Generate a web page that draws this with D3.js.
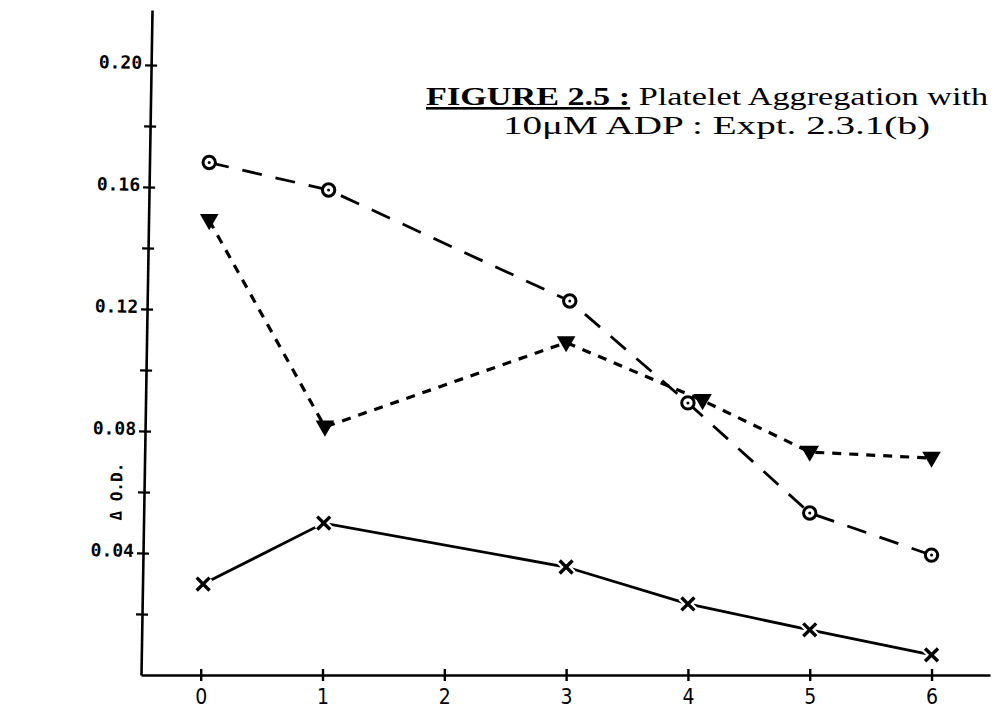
<!DOCTYPE html>
<html>
<head>
<meta charset="utf-8">
<script src="https://cdn.jsdelivr.net/npm/d3@7"></script>
<style>
  html, body { margin: 0; padding: 0; background: #fff; }
  svg { display: block; }
</style>
</head>
<body>
<svg id="chart" width="995" height="708"></svg>
<script>
// Platelet aggregation (ΔO.D.) over time, three conditions
const circleX = [0.07, 1.05, 3.03, 4.0, 5.0, 6.0];
const circleY = [0.168, 0.159, 0.1226, 0.0892, 0.0531, 0.0393];

const triangleX = [0.07, 1.02, 3.0, 4.12, 5.0, 6.0];
const triangleY = [0.149, 0.0813, 0.109, 0.090, 0.0731, 0.0711];

const crossX = [0.02, 1.01, 3.0, 4.0, 5.0, 6.0];
const crossY = [0.0298, 0.0498, 0.0354, 0.0233, 0.0148, 0.0066];

const xTicks = [0, 1, 2, 3, 4, 5, 6];
const yTicks = [0.02, 0.04, 0.06, 0.08, 0.10, 0.12, 0.14, 0.16, 0.18, 0.20];
const yLabelled = [0.04, 0.08, 0.12, 0.16, 0.20];

const titleBold = "FIGURE 2.5 :";
const titleRest = " Platelet Aggregation with";
const titleLine2 = "10\u03BCM ADP : Expt. 2.3.1(b)";
const yTitle = "\u0394 O.D.";

const svg = d3.select("#chart");

const x = d3.scaleLinear().domain([-0.49, 6.48]).range([141, 990]);
const y = d3.scaleLinear().domain([0, 0.218]).range([675, 10]);

// y axis: hand-ruled, leaning slightly to the right at the top
const yAxis = d3.axisLeft(y)
  .tickValues(yTicks)
  .tickSizeInner(6).tickSizeOuter(0)
  .tickPadding(3)
  .tickFormat(d => yLabelled.some(v => Math.abs(v - d) < 1e-9) ? d3.format(".2f")(d) : "");

const x0 = x(-0.49), y0 = y(0);
const gy = svg.append("g")
  .attr("transform", `rotate(0.95,${x0},${y0}) translate(${x0},0)`)
  .call(yAxis);
gy.select(".domain").attr("stroke", "#000").attr("stroke-width", 2.6);
gy.selectAll(".tick line").attr("x1", -6).attr("x2", 6).attr("stroke", "#000").attr("stroke-width", 2.4);
gy.selectAll(".tick text")
  .attr("font-family", "'DejaVu Sans Mono', monospace")
  .attr("font-weight", "bold")
  .attr("font-size", 18)
  .attr("fill", "#000")
  .attr("dy", "0.2em");

// the y title sits between the 0.08 and 0.04 labels
gy.append("text")
  .attr("transform", `translate(-22,${y(0.06)}) rotate(-90)`)
  .attr("text-anchor", "middle")
  .attr("font-family", "'DejaVu Sans Mono', monospace")
  .attr("font-weight", "bold")
  .attr("font-size", 16)
  .attr("fill", "#000")
  .text(yTitle);

const xAxis = d3.axisBottom(x)
  .tickValues(xTicks)
  .tickSizeInner(6).tickSizeOuter(0)
  .tickPadding(8)
  .tickFormat(d3.format("d"));

const gx = svg.append("g").attr("transform", `translate(0,${y0})`).call(xAxis);
gx.select(".domain").attr("stroke", "#000").attr("stroke-width", 2.6);
gx.selectAll(".tick line").attr("y1", -6).attr("y2", 6).attr("stroke", "#000").attr("stroke-width", 2.4);
gx.selectAll(".tick text")
  .attr("font-family", "'Liberation Sans Narrow', 'DejaVu Sans Condensed', sans-serif")
  .attr("font-size", 21)
  .attr("fill", "#000");

// figure title
const t1 = svg.append("text")
  .attr("x", 426).attr("y", 105)
  .attr("font-family", "'Liberation Serif', 'Times New Roman', serif")
  .attr("font-size", 26)
  .attr("textLength", 562)
  .attr("lengthAdjust", "spacingAndGlyphs");
t1.append("tspan").attr("font-weight", "bold").attr("text-decoration", "underline").text(titleBold);
t1.append("tspan").text(titleRest);

svg.append("text")
  .attr("x", 503).attr("y", 134)
  .attr("font-family", "'Liberation Serif', 'Times New Roman', serif")
  .attr("font-size", 26)
  .attr("textLength", 427)
  .attr("lengthAdjust", "spacingAndGlyphs")
  .text(titleLine2);

// series lines
const line = d3.line().x(d => x(d[0])).y(d => y(d[1]));
const circleData = d3.zip(circleX, circleY);
const triangleData = d3.zip(triangleX, triangleY);
const crossData = d3.zip(crossX, crossY);

svg.append("path").datum(circleData).attr("d", line)
  .attr("fill", "none").attr("stroke", "#000").attr("stroke-width", 2.8)
  .attr("stroke-dasharray", "20 14");

svg.append("path").datum(triangleData).attr("d", line)
  .attr("fill", "none").attr("stroke", "#000").attr("stroke-width", 3.2)
  .attr("stroke-dasharray", "9 8");

svg.append("path").datum(crossData).attr("d", line)
  .attr("fill", "none").attr("stroke", "#000").attr("stroke-width", 2.8);

// markers
const crossSym = d3.symbol().type(d3.symbolX).size(110);
const cm = svg.append("g").selectAll("g").data(crossData).join("g")
  .attr("transform", d => `translate(${x(d[0])},${y(d[1])})`);
cm.append("path").attr("d", crossSym).attr("fill", "none").attr("stroke", "#fff").attr("stroke-width", 8);
cm.append("path").attr("d", crossSym).attr("fill", "none").attr("stroke", "#000").attr("stroke-width", 3.4);

const tri = d3.symbol().type(d3.symbolTriangle).size(150);
svg.append("g").selectAll("path").data(triangleData).join("path")
  .attr("d", tri)
  .attr("transform", d => `translate(${x(d[0])},${y(d[1]) - 1}) rotate(180)`)
  .attr("fill", "#000");

const co = svg.append("g").selectAll("g").data(circleData).join("g")
  .attr("transform", d => `translate(${x(d[0])},${y(d[1])})`);
co.append("circle").attr("r", 6.2).attr("fill", "#fff").attr("stroke", "#000").attr("stroke-width", 3);
co.append("circle").attr("r", 1.5).attr("fill", "#000");
</script>
</body>
</html>
